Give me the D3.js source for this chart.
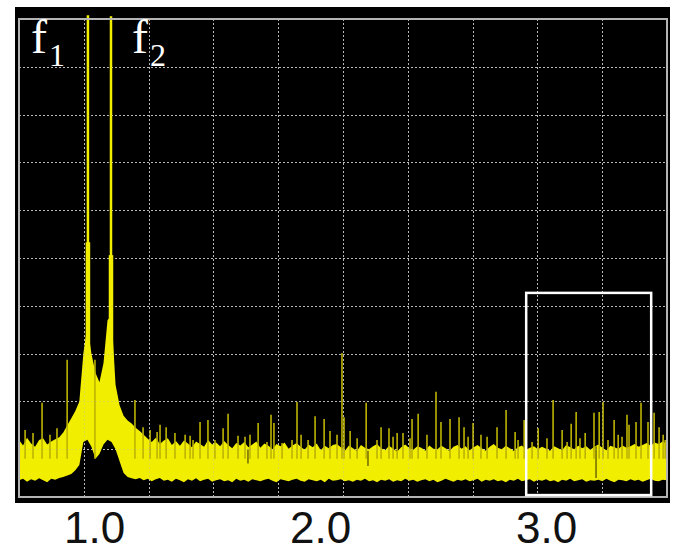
<!DOCTYPE html>
<html>
<head>
<meta charset="utf-8">
<script src="https://cdn.jsdelivr.net/npm/d3@7/dist/d3.min.js"></script>
<style>
  html, body { margin: 0; padding: 0; background: #ffffff; }
  svg { display: block; }
</style>
</head>
<body>
<svg id="chart" width="673" height="553"></svg>
<script>
// ---- Spectrum data (frequency in normalised units, level in dB) ----
const freqMin = 0.668, freqMax = 3.535;
const levelMin = -100, levelMax = 0;

// analyser bins: first bin frequency and spacing
const binStart = 0.668;
const binStep = 0.0178;

// upper edge of the noise trace per bin (dB)
const bandTop = [
  -88.0, -89.2, -87.6, -88.8, -89.5, -88.1, -87.7, -89.0, -88.4, -87.9,
  -87.5, -86.5, -85.0, -83.5, -82.0,
  -80.0, -70.0, -64.0, -70.0, -74.0, -76.0, -72.0, -63.0, -62.0, -76.5,
  -80.8, -83.0, -84.0, -84.6, -85.5, -86.2, -87.0, -87.8,
  -88.5, -87.6, -88.9, -88.2, -87.7, -89.1, -88.3,
  -89.3, -88.2, -88.8, -89.6, -88.4, -88.9, -89.5, -88.1, -89.0, -88.6,
  -89.4, -88.3, -89.1, -89.8, -88.7, -89.2, -88.5, -89.6, -89.0, -88.4,
  -89.7, -88.8, -89.3, -90.0, -88.9, -89.4, -88.6, -89.9, -89.2, -88.7,
  -89.5, -90.1, -89.0, -89.6, -88.8, -90.2, -89.3, -89.8, -89.1, -88.9,
  -89.6, -90.3, -89.2, -89.8, -90.4, -89.1, -89.7, -90.0, -89.4, -88.9,
  -89.8, -90.2, -89.3, -89.9, -90.5, -89.6, -89.0, -89.8, -90.1, -89.4,
  -89.7, -90.3, -89.2, -89.9, -90.0, -89.3, -89.8, -90.4, -89.5, -89.1,
  -89.9, -89.4, -90.2, -89.6, -89.1, -89.8, -90.3, -89.5, -88.9, -89.7,
  -90.0, -89.3, -89.8, -90.4, -89.6, -89.2, -90.1, -89.7, -89.4, -90.0,
  -89.5, -89.9, -90.3, -89.4, -89.8, -90.2, -89.1, -89.6, -90.0, -89.3,
  -89.8, -89.4, -90.1, -89.5, -89.0, -89.7, -90.2, -89.3, -89.6, -89.9,
  -89.2, -89.7, -89.4, -88.9, -89.5, -89.1, -88.7, -89.3, -88.6, -88.9,
  -88.4, -88.8
];

// lower edge of the noise trace per bin (dB)
const bandBottom = [
  -96.5, -96.2, -96.8, -96.3, -96.6, -96.1, -96.5, -96.9, -96.2, -96.4,
  -96.0, -95.8, -95.5, -95.2, -94.4,
  -93.3, -88.5, -88.0, -89.5, -92.0, -91.0, -89.0, -88.0, -88.5, -90.0,
  -92.5, -95.0, -95.8, -96.1, -96.3, -96.0, -96.5, -96.2,
  -96.7, -96.3, -96.0, -96.6, -96.4, -96.8, -96.2,
  -96.5, -96.9, -96.3, -96.6, -96.1, -96.7, -96.4, -96.2, -96.8, -96.5,
  -96.3, -96.7, -96.5, -96.9, -96.2, -96.6, -96.4, -96.8, -96.3, -96.5,
  -96.7, -96.4, -96.2, -96.6, -96.9, -96.3, -96.5, -96.7, -96.4, -96.2,
  -96.6, -96.8, -96.3, -96.5, -96.7, -96.4, -96.9, -96.2, -96.6, -96.5,
  -96.3, -96.7, -96.5, -96.8, -96.4, -96.6, -96.2, -96.7, -96.5, -96.9,
  -96.4, -96.6, -96.3, -96.8, -96.5, -96.7, -96.2, -96.6, -96.4, -96.8,
  -96.5, -96.3, -96.7, -96.4, -96.9, -96.6, -96.2, -96.5, -96.8, -96.4,
  -96.6, -96.3, -96.7, -96.5, -96.2, -96.8, -96.4, -96.6, -96.3, -96.7,
  -96.5, -96.9, -96.4, -96.6, -96.2, -96.7, -96.5, -96.3, -96.8, -96.4,
  -96.6, -96.3, -96.7, -96.5, -96.9, -96.4, -96.6, -96.2, -96.7, -96.5,
  -96.3, -96.8, -96.5, -96.6, -96.4, -96.7, -96.2, -96.6, -96.9, -96.4,
  -96.5, -96.7, -96.3, -96.6, -96.4, -96.8, -96.5, -96.2, -96.6, -96.7,
  -96.4, -96.5
];

// isolated narrow spurs rising above the noise
const spurFreq = [
  0.695, 0.730, 0.770, 0.805, 0.836, 0.881, 1.004, 1.181, 1.217, 1.248,
  1.279, 1.292, 1.319, 1.358, 1.403, 1.425, 1.438, 1.469, 1.504, 1.535,
  1.571, 1.593, 1.637, 1.668, 1.690, 1.726, 1.765, 1.783, 1.796, 1.832,
  1.876, 1.898, 1.916, 1.947, 1.978, 2.018, 2.044, 2.075, 2.097, 2.106,
  2.133, 2.164, 2.204, 2.252, 2.270, 2.305, 2.323, 2.341, 2.367, 2.398,
  2.407, 2.434, 2.473, 2.513, 2.535, 2.575, 2.615, 2.637, 2.655, 2.677,
  2.712, 2.739, 2.783, 2.823, 2.863, 2.876, 2.903, 2.938, 2.965, 3.004,
  3.031, 3.071, 3.093, 3.111, 3.133, 3.150, 3.173, 3.212, 3.235, 3.252,
  3.274, 3.301, 3.319, 3.336, 3.358, 3.367, 3.398, 3.420, 3.451, 3.478,
  3.500, 3.518, 3.527
];
const spurLevel = [
  -86.0, -86.6, -80.3, -87.0, -85.6, -71.3, -71.3, -79.7, -85.4, -86.0,
  -86.4, -84.9, -85.4, -86.6, -87.0, -87.2, -88.1, -84.3, -83.9, -88.1,
  -85.6, -82.6, -87.2, -87.4, -87.0, -84.5, -88.5, -82.8, -84.5, -88.7,
  -88.1, -80.1, -87.0, -88.1, -83.1, -83.7, -86.2, -87.0, -69.9, -83.3,
  -86.2, -87.7, -80.3, -88.1, -85.4, -85.6, -87.4, -86.6, -86.6, -87.7,
  -83.7, -82.6, -87.0, -78.0, -84.3, -83.7, -83.3, -85.4, -87.4, -84.5,
  -87.0, -87.4, -85.4, -81.8, -86.4, -88.1, -83.9, -88.5, -85.6, -87.7,
  -79.7, -86.0, -88.5, -84.7, -82.2, -87.7, -86.6, -82.4, -82.2, -80.1,
  -88.1, -83.9, -87.0, -87.4, -82.8, -84.9, -84.3, -80.3, -84.3, -82.4,
  -85.4, -87.0, -88.1
];

// short drop-outs inside the noise band
const dropFreq = [1.681, 2.212, 3.221];
const dropTop = [-90.0, -90.3, -89.4];
const dropBottom = [-93.0, -93.5, -96.0];

// the two tones
const toneFreq = [0.973, 1.075];
const toneLevel = [0.8, 0.6];
const toneShoulder = [-46.7, -49.4];
const toneName = ["f", "f"];
const toneIndex = ["1", "2"];

// frequency axis labels
const tickValues = [1.0, 2.0, 3.0];
const tickLabels = ["1.0", "2.0", "3.0"];

// highlighted region
const boxFreq = [2.912, 3.465];
const boxLevel = [-99.6, -57.3];

// ---- Drawing ----
const svg = d3.select("#chart");
const plot = { left: 19, right: 667, top: 19, bottom: 497 };

const x = d3.scaleLinear().domain([freqMin, freqMax]).range([plot.left, plot.right]);
const y = d3.scaleLinear().domain([levelMin, levelMax]).range([plot.bottom, plot.top]);

// screen background
svg.append("rect")
  .attr("x", 15).attr("y", 7).attr("width", 655).attr("height", 496)
  .attr("fill", "#000000");

// graticule: 10 x 10 divisions
function graticule(g, color, opacity) {
  const xs = d3.range(1, 10).map(i => plot.left + i * (plot.right - plot.left) / 10);
  const ys = d3.range(1, 10).map(i => plot.top + i * (plot.bottom - plot.top) / 10);
  g.selectAll("line.v").data(xs).join("line").attr("class", "v")
    .attr("x1", d => Math.round(d) + 0.5).attr("x2", d => Math.round(d) + 0.5)
    .attr("y1", plot.top).attr("y2", plot.bottom);
  g.selectAll("line.h").data(ys).join("line").attr("class", "h")
    .attr("y1", d => Math.round(d) + 0.5).attr("y2", d => Math.round(d) + 0.5)
    .attr("x1", plot.left).attr("x2", plot.right);
  g.selectAll("line")
    .attr("stroke", color).attr("stroke-width", 1)
    .attr("stroke-dasharray", "2,2").attr("opacity", opacity);
}
graticule(svg.append("g"), "#b8b8b8", 1);

// noise band
const bins = bandTop.map((t, i) => ({ f: binStart + i * binStep, top: t, bottom: bandBottom[i] }));
const area = d3.area()
  .x(d => x(d.f))
  .y0(d => y(d.bottom))
  .y1(d => y(d.top))
  .curve(d3.curveLinear);
svg.append("path").datum(bins)
  .attr("d", area)
  .attr("fill", "#f2ee00");

// spurs
svg.append("g").selectAll("line")
  .data(spurFreq.map((f, i) => ({ f, v: spurLevel[i] })))
  .join("line")
  .attr("x1", d => x(d.f)).attr("x2", d => x(d.f))
  .attr("y1", d => y(d.v)).attr("y2", y(-92))
  .attr("stroke", "#bdb400").attr("stroke-width", 1.6);

// drop-outs
svg.append("g").selectAll("line")
  .data(dropFreq.map((f, i) => ({ f, a: dropTop[i], b: dropBottom[i] })))
  .join("line")
  .attr("x1", d => x(d.f)).attr("x2", d => x(d.f))
  .attr("y1", d => y(d.a)).attr("y2", d => y(d.b))
  .attr("stroke", "#6f6a00").attr("stroke-width", 1.5);

// tones: shoulder and carrier line
const tones = toneFreq.map((f, i) => ({ f, v: toneLevel[i], s: toneShoulder[i] }));
svg.append("g").selectAll("line")
  .data(tones).join("line")
  .attr("x1", d => x(d.f)).attr("x2", d => x(d.f))
  .attr("y1", d => y(d.s)).attr("y2", y(-72))
  .attr("stroke", "#f2ee00").attr("stroke-width", 4.5);
svg.append("g").selectAll("line")
  .data(tones).join("line")
  .attr("x1", d => x(d.f)).attr("x2", d => x(d.f))
  .attr("y1", d => y(d.v)).attr("y2", y(-80))
  .attr("stroke", "#f2ee00").attr("stroke-width", 2.5);

// faint graticule showing through the trace
graticule(svg.append("g"), "#b8b8b8", 0.3);

// screen border
svg.append("rect")
  .attr("x", plot.left).attr("y", plot.top)
  .attr("width", plot.right - plot.left).attr("height", plot.bottom - plot.top)
  .attr("fill", "none").attr("stroke", "#b4b4b4").attr("stroke-width", 2);

// highlighted region box
svg.append("rect")
  .attr("x", x(boxFreq[0])).attr("y", y(boxLevel[1]))
  .attr("width", x(boxFreq[1]) - x(boxFreq[0]))
  .attr("height", y(boxLevel[0]) - y(boxLevel[1]))
  .attr("fill", "none").attr("stroke", "#ffffff").attr("stroke-width", 2.5);

// tone labels
const labelX = [31, 132];
tones.forEach((d, i) => {
  const t = svg.append("text")
    .attr("x", labelX[i]).attr("y", 53)
    .attr("fill", "#ffffff")
    .attr("font-family", "'Liberation Serif', 'DejaVu Serif', serif")
    .attr("font-size", 48);
  t.append("tspan").text(toneName[i]);
  t.append("tspan").attr("font-size", 32).attr("dy", 13).attr("dx", 2).text(toneIndex[i]);
});

// frequency axis labels
const axis = d3.axisBottom(x).tickValues(tickValues)
  .tickFormat((d, i) => tickLabels[i]).tickSize(0).tickPadding(0);
const axisG = svg.append("g").call(axis);
axisG.select(".domain").remove();
axisG.selectAll("text")
  .attr("y", 543).attr("dy", null)
  .attr("fill", "#111111")
  .attr("font-family", "'Liberation Sans', Arial, sans-serif")
  .attr("font-size", 44);
</script>
</body>
</html>
